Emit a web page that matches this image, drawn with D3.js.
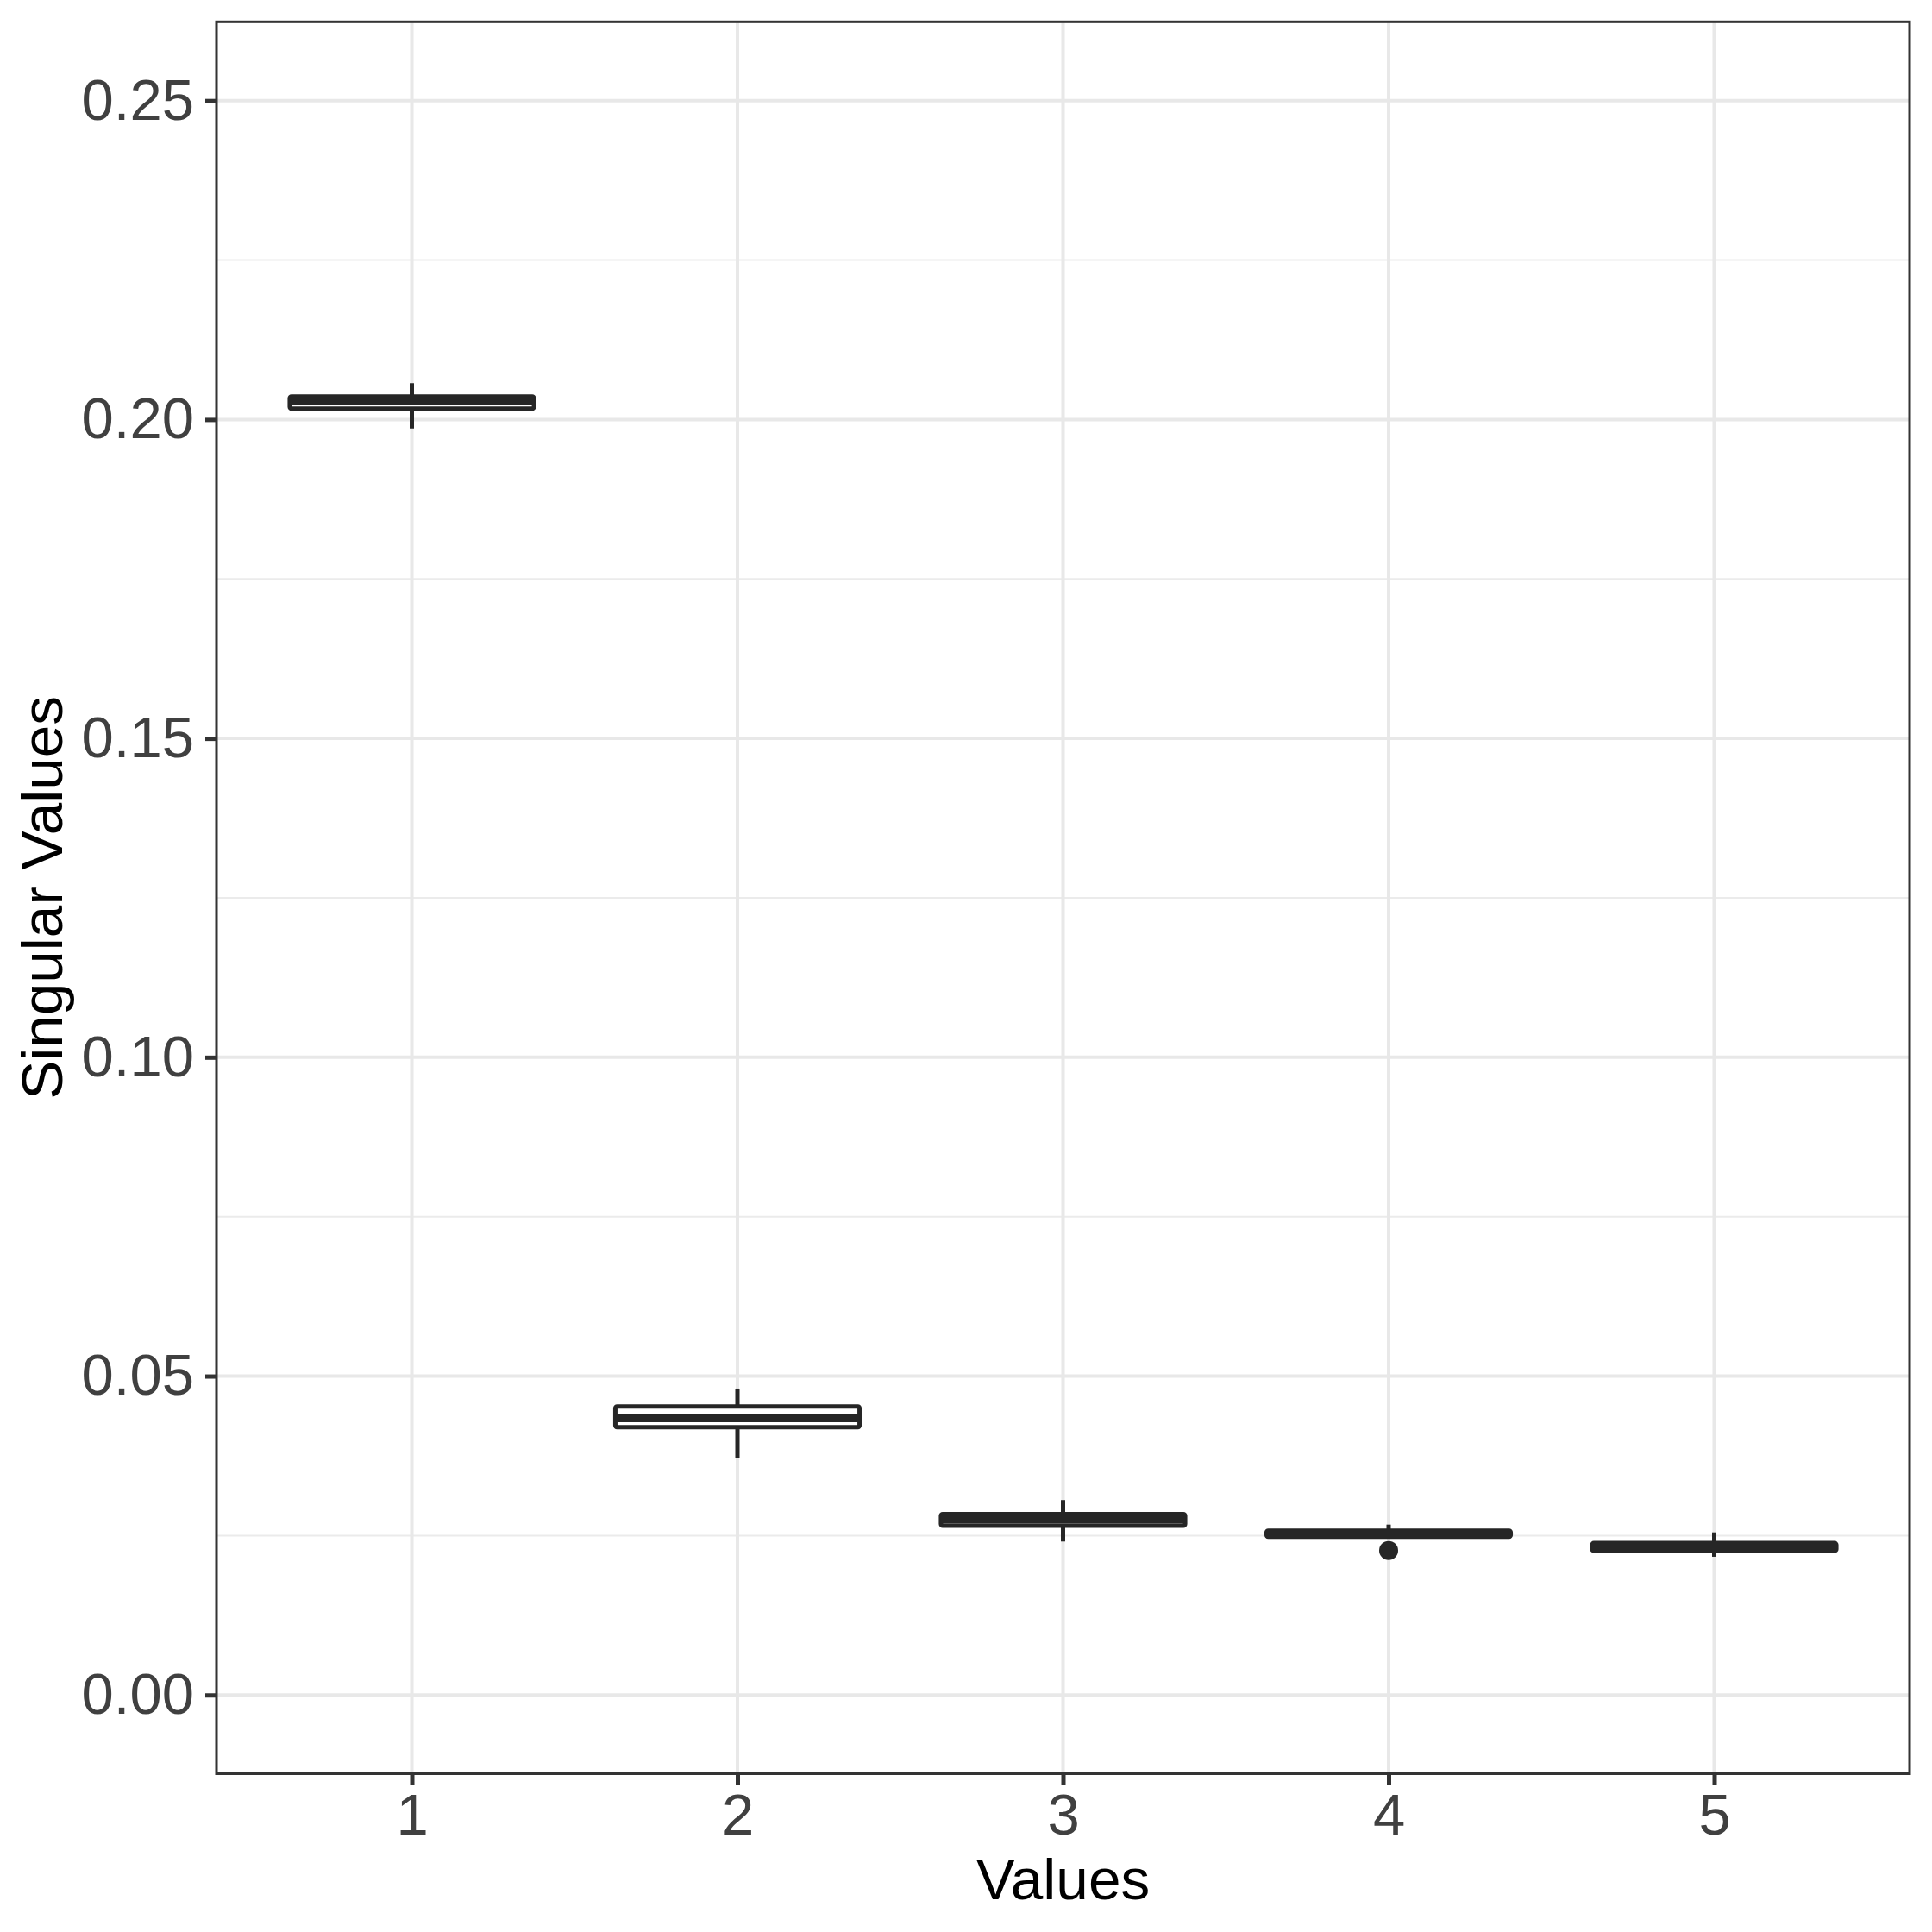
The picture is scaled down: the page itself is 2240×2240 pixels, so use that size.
<!DOCTYPE html>
<html>
<head>
<meta charset="utf-8">
<script src="https://cdn.jsdelivr.net/npm/d3@7/dist/d3.min.js"></script>
<style>
  html, body { margin: 0; padding: 0; background: #ffffff; }
  svg { display: block; }
  text { font-family: "Liberation Sans", Arial, Helvetica, sans-serif; }
</style>
</head>
<body>
<svg id="chart" width="2240" height="2240"></svg>
<script>
// ---- data ----
const categories   = ["1", "2", "3", "4", "5"];
const whiskerLow   = [0.1986, 0.0371, 0.02407, 0.02455, 0.02168];
const lowerHinge   = [0.2017, 0.04199, 0.02653, 0.02482, 0.0226];
const medians      = [0.2029, 0.04343, 0.02754, 0.0253, 0.02317];
const upperHinge   = [0.2036, 0.04524, 0.02838, 0.02576, 0.02382];
const whiskerHigh  = [0.2057, 0.04805, 0.03057, 0.02672, 0.0255];
const outliers     = [[], [], [], [0.02267], []];
const yTicks       = [0, 0.05, 0.10, 0.15, 0.20, 0.25];
const yMinorTicks  = [0.025, 0.075, 0.125, 0.175, 0.225];
const yDomain      = [-0.01234, 0.26236];

const boxes = categories.map((c, i) => ({
  cat: c, lo: whiskerLow[i], q1: lowerHinge[i], med: medians[i],
  q3: upperHinge[i], hi: whiskerHigh[i], out: outliers[i]
}));

// ---- layout ----
const panel = { left: 251, right: 2214, top: 25.3, bottom: 2056.5 };
const svg = d3.select("#chart");

const x = d3.scalePoint().domain(categories)
  .range([panel.left, panel.right]).padding(0.6);
const y = d3.scaleLinear().domain(yDomain)
  .range([panel.bottom, panel.top]);
const boxWidth = x.step() * 0.75;

const ink = "#262626";

// background
svg.append("rect").attr("width", 2240).attr("height", 2240).attr("fill", "#fff");

// grid
const grid = svg.append("g");
grid.selectAll(".minor").data(yMinorTicks).join("line")
  .attr("x1", panel.left).attr("x2", panel.right)
  .attr("y1", d => y(d)).attr("y2", d => y(d))
  .attr("stroke", "#ebebeb").attr("stroke-width", 2);
grid.selectAll(".major").data(yTicks).join("line")
  .attr("x1", panel.left).attr("x2", panel.right)
  .attr("y1", d => y(d)).attr("y2", d => y(d))
  .attr("stroke", "#e8e8e8").attr("stroke-width", 4);
grid.selectAll(".vmajor").data(categories).join("line")
  .attr("y1", panel.top).attr("y2", panel.bottom)
  .attr("x1", d => x(d)).attr("x2", d => x(d))
  .attr("stroke", "#e8e8e8").attr("stroke-width", 4);

// boxplots
const g = svg.append("g");
const bx = g.selectAll("g.box").data(boxes).join("g").attr("class", "box");
// whiskers
bx.append("line")
  .attr("x1", d => x(d.cat)).attr("x2", d => x(d.cat))
  .attr("y1", d => y(d.q3)).attr("y2", d => y(d.hi))
  .attr("stroke", ink).attr("stroke-width", 5);
bx.append("line")
  .attr("x1", d => x(d.cat)).attr("x2", d => x(d.cat))
  .attr("y1", d => y(d.q1)).attr("y2", d => y(d.lo))
  .attr("stroke", ink).attr("stroke-width", 5);
// box
bx.append("rect")
  .attr("x", d => x(d.cat) - boxWidth / 2).attr("width", boxWidth)
  .attr("y", d => y(d.q3)).attr("height", d => y(d.q1) - y(d.q3))
  .attr("fill", "#fff").attr("stroke", ink).attr("stroke-width", 5)
  .attr("rx", 2);
// median
bx.append("line")
  .attr("x1", d => x(d.cat) - boxWidth / 2).attr("x2", d => x(d.cat) + boxWidth / 2)
  .attr("y1", d => y(d.med)).attr("y2", d => y(d.med))
  .attr("stroke", ink).attr("stroke-width", 10);
// outliers
bx.selectAll("circle").data(d => d.out.map(v => ({ cat: d.cat, v }))).join("circle")
  .attr("cx", d => x(d.cat)).attr("cy", d => y(d.v)).attr("r", 11)
  .attr("fill", ink);

// panel border
svg.append("rect")
  .attr("x", panel.left).attr("y", panel.top)
  .attr("width", panel.right - panel.left).attr("height", panel.bottom - panel.top)
  .attr("fill", "none").attr("stroke", "#333333").attr("stroke-width", 3);

// axes
const yAxis = svg.append("g").attr("transform", `translate(${panel.left},0)`)
  .call(d3.axisLeft(y).tickValues(yTicks).tickFormat(d3.format(".2f"))
    .tickSize(13).tickPadding(13));
const xAxis = svg.append("g").attr("transform", `translate(0,${panel.bottom})`)
  .call(d3.axisBottom(x).tickSize(13.5).tickPadding(9));
[yAxis, xAxis].forEach(a => {
  a.select(".domain").remove();
  a.selectAll(".tick line").attr("stroke", "#333333").attr("stroke-width", 5);
  a.selectAll(".tick text").attr("fill", "#404040")
    .style("font-size", "67px")
    .style("font-family", '"Liberation Sans", Arial, sans-serif');
});

// titles
svg.append("text")
  .attr("x", (panel.left + panel.right) / 2).attr("y", 2202)
  .attr("text-anchor", "middle").attr("fill", "#000")
  .style("font-size", "67.5px").text("Values");
svg.append("text")
  .attr("transform", `translate(72,${(panel.top + panel.bottom) / 2}) rotate(-90)`)
  .attr("text-anchor", "middle").attr("fill", "#000")
  .style("font-size", "67.5px").text("Singular Values");
</script>
</body>
</html>
